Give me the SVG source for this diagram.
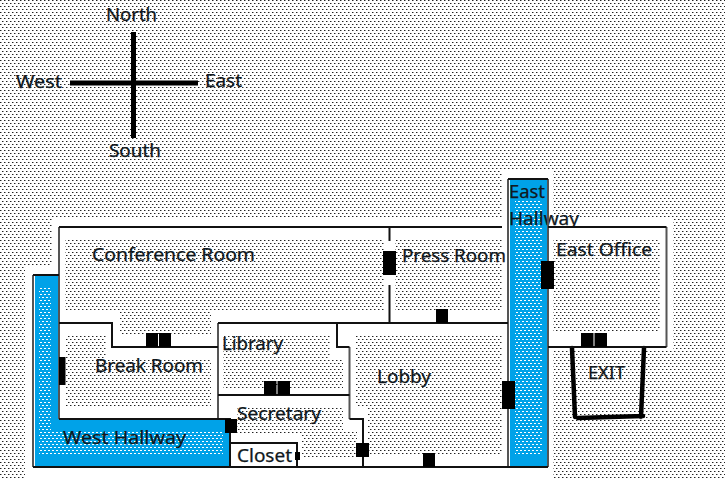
<svg xmlns="http://www.w3.org/2000/svg" width="725" height="480" viewBox="0 0 725 480">
<style>
text{font-family:"Noto Sans","Open Sans","Liberation Sans",sans-serif;font-size:17.5px;fill:#101820;stroke:#101820;stroke-width:.25}
.w{fill:none;stroke:#111;stroke-width:2}
.g{fill:none;stroke:#555;stroke-width:2}
.d{fill:#000}
.r{fill:url(#dots)}
.h{fill:url(#wdots)}
.b{fill:#00a2e8}
.c{fill:none;stroke:#000;stroke-width:5}
.x{fill:none;stroke:#000;stroke-width:4.500;stroke-linecap:round}
</style>
<defs>
<pattern id="dots" width="4" height="6" patternUnits="userSpaceOnUse"><rect width="4" height="6" fill="#fff"/><rect x="0" y="0" width="1" height="1" fill="#222"/><rect x="1" y="0" width="1" height="1" fill="#999"/><rect x="2" y="3" width="1" height="1" fill="#222"/><rect x="3" y="3" width="1" height="1" fill="#999"/></pattern>
<pattern id="wdots" width="4" height="6" patternUnits="userSpaceOnUse"><rect width="4" height="6" fill="#00a2e8"/><rect x="0" y="0" width="2" height="1" fill="#fff"/><rect x="2" y="3" width="2" height="1" fill="#fff"/></pattern>
</defs>
<rect class="r" width="725" height="480"/>
<path fill="#fff" d="M52 217H502V170H553V217H673V349H553V480H25V265H52Z"/>
<g id="compass">
<path class="c" d="M133.500 32V138M70 83H198"/>
<text x="106" y="21" textLength="51" lengthAdjust="spacingAndGlyphs">North</text>
<text x="16" y="88" textLength="46" lengthAdjust="spacingAndGlyphs">West</text>
<text x="205" y="87" textLength="37" lengthAdjust="spacingAndGlyphs">East</text>
<text x="109" y="157" textLength="52" lengthAdjust="spacingAndGlyphs">South</text>
</g>
<g id="west-hallway">
<path class="b" d="M35 275H59V419H230V467H35Z"/>
<path class="h" d="M39 287H51V430H223V456H39Z"/>
<text x="63" y="444" textLength="123" lengthAdjust="spacingAndGlyphs">West Hallway</text>
</g>
<g id="conference-room">
<path class="r" d="M65 238H384V312H211V335H120V312H65Z"/>
<text x="92" y="261" textLength="163" lengthAdjust="spacingAndGlyphs">Conference Room</text>
</g>
<g id="press-room">
<rect class="r" x="395" y="238" width="107" height="74"/>
<text x="402" y="262" textLength="104" lengthAdjust="spacingAndGlyphs">Press Room</text>
</g>
<g id="break-room">
<path class="r" d="M66 335H106V358H211V408H66Z"/>
<text x="95" y="372" textLength="108" lengthAdjust="spacingAndGlyphs">Break Room</text>
</g>
<g id="library">
<path class="r" d="M223 335H330V358H343V388H223Z"/>
<text x="222" y="350" textLength="61" lengthAdjust="spacingAndGlyphs">Library</text>
</g>
<g id="secretary">
<path class="r" d="M237 407H343V430H357V457H302V433H237Z"/>
<text x="237" y="420" textLength="84" lengthAdjust="spacingAndGlyphs">Secretary</text>
</g>
<g id="closet">
<rect x="231" y="443" width="66" height="24" fill="#fff"/>
<text x="237" y="462" textLength="55" lengthAdjust="spacingAndGlyphs">Closet</text>
</g>
<g id="lobby">
<path class="r" d="M356 335H502V455H368V408H356Z"/>
<text x="377" y="383" textLength="54" lengthAdjust="spacingAndGlyphs">Lobby</text>
</g>
<g id="east-hallway">
<rect class="b" x="510" y="179" width="38" height="288"/>
<rect class="h" x="515" y="200" width="27" height="256"/>
<text x="509" y="198" textLength="36" lengthAdjust="spacingAndGlyphs">East</text>
<text x="509" y="225" textLength="70" lengthAdjust="spacingAndGlyphs">Hallway</text>
</g>
<g id="east-office">
<rect x="549" y="226" width="118" height="122" fill="#fff"/>
<rect class="r" x="553" y="238" width="107" height="95"/>
<text x="556" y="256" textLength="96" lengthAdjust="spacingAndGlyphs">East Office</text>
</g>
<g id="exit">
<path class="x" d="M572 348L575 417M578 418L643 416M644 348L641 417"/>
<text x="588" y="379" textLength="37" lengthAdjust="spacingAndGlyphs">EXIT</text>
</g>
<g id="connectors">
<path class="g" d="M33 275V467M59 227V419M218 323V419M349.500 347V419M508 179V467M548 179V467M666.500 227V347"/>
<path class="w" d="M59 227H502M548 227H666.500M666.500 347H548M59 419H230V467M33 275H59M33 467H548M59 323H112V347H218M218 323H508M337 323V347H349.500M349.500 419H363V467M218 395H349.500M389.500 227V241M389.500 285V323M230 443H297V467M508 179H548"/>
<path class="d" d="M146 333h12v14h-12zM159 333h12v14h-12zM59 357h6.500v28h-6.500zM264 381h12.500v14h-12.500zM277.500 381h12.500v14h-12.500zM225 419h12v14h-12zM295 452h5v8h-5zM383 251h13v24h-13zM436 309h12v14h-12zM541 261h13v28h-13zM581 333h12.500v14h-12.500zM594.500 333h12.500v14h-12.500zM502 381h13v28h-13zM356 443h13v14h-13zM423 453h12v14h-12z"/>
</g>
</svg>
